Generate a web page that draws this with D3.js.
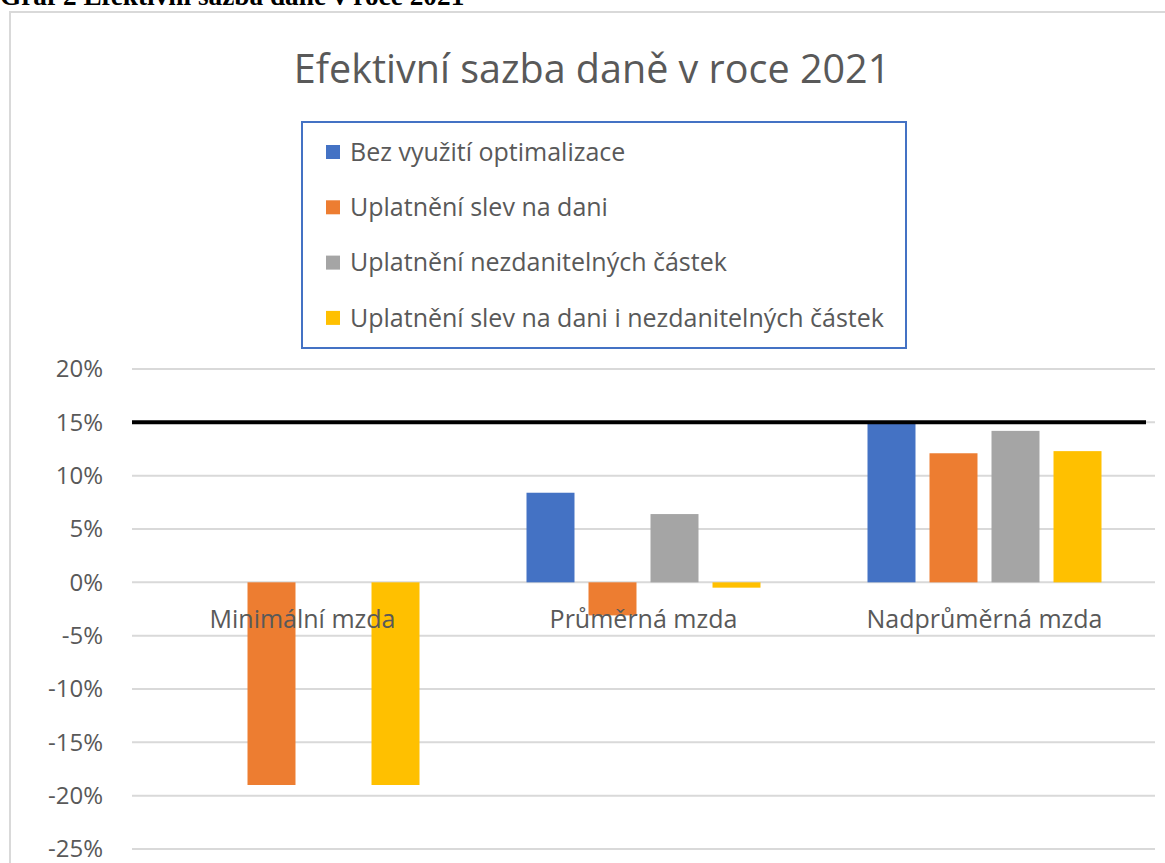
<!DOCTYPE html>
<html>
<head>
<meta charset="utf-8">
<script src="https://cdn.jsdelivr.net/npm/d3@7"></script>
<style>
  body { margin: 0; background: #fff; }
  text { font-family: "Open Sans", "Noto Sans", sans-serif; }
</style>
</head>
<body>
<svg id="chart"></svg>
<script>
// svg size
const width = 1165;
const height = 863;

// data
const categories = ["Minimální mzda", "Průměrná mzda", "Nadprůměrná mzda"];
const seriesNames = [
    "Bez využití optimalizace",
    "Uplatnění slev na dani",
    "Uplatnění nezdanitelných částek",
    "Uplatnění slev na dani i nezdanitelných částek"
];
const bezOptimalizace = [0, 8.4, 15.0];
const slevyNaDani = [-19.0, -3.1, 12.1];
const nezdanitelneCastky = [0, 6.4, 14.2];
const slevyINezdanitelne = [-19.0, -0.5, 12.3];
const referenceRate = 15;
const yTicks = [-25, -20, -15, -10, -5, 0, 5, 10, 15, 20];

const seriesValues = [bezOptimalizace, slevyNaDani, nezdanitelneCastky, slevyINezdanitelne];
const colors = ["#4472c4", "#ed7d31", "#a5a5a5", "#ffc000"];
const textColor = "#595959";

const svg = d3.select("#chart")
    .attr("width", width)
    .attr("height", height);

// caption of the document (cut at the top, like in the source page)
svg.append("text")
    .attr("x", 0)
    .attr("y", 5)
    .style("font-family", "'Liberation Serif', 'Times New Roman', serif")
    .attr("font-weight", "bold")
    .attr("font-size", 27.3)
    .attr("fill", "#000")
    .text("Graf 2 Efektivní sazba daně v roce 2021");

// chart frame
svg.append("rect")
    .attr("x", 10)
    .attr("y", 12)
    .attr("width", 1200)
    .attr("height", 900)
    .attr("fill", "white")
    .attr("stroke", "#d9d9d9")
    .attr("stroke-width", 2);

// title
svg.append("text")
    .attr("x", 592)
    .attr("y", 83)
    .attr("text-anchor", "middle")
    .attr("font-size", 39.5)
    .attr("fill", textColor)
    .text("Efektivní sazba daně v roce 2021");

// scales
const y = d3.scaleLinear()
    .domain([-25, 20])
    .range([849, 369]);

const x0 = d3.scaleBand()
    .domain(categories)
    .range([132, 1155]);

const x1 = d3.scaleBand()
    .domain(d3.range(seriesNames.length))
    .range([53.5, x0.bandwidth() - 53.5])
    .paddingInner(0.226);

// gridlines
svg.append("g")
    .selectAll("line")
    .data(yTicks)
    .enter()
    .append("line")
    .attr("x1", 132)
    .attr("x2", 1155)
    .attr("y1", d => y(d))
    .attr("y2", d => y(d))
    .attr("stroke", "#d9d9d9")
    .attr("stroke-width", 2);

// y axis labels
svg.append("g")
    .selectAll("text")
    .data(yTicks)
    .enter()
    .append("text")
    .attr("x", 103)
    .attr("y", d => y(d))
    .attr("dy", "0.35em")
    .attr("text-anchor", "end")
    .attr("font-size", 24)
    .attr("fill", textColor)
    .text(d => d + "%");

// bars
const groups = svg.append("g")
    .selectAll("g")
    .data(categories)
    .enter()
    .append("g")
    .attr("transform", d => `translate(${x0(d)},0)`);

groups.selectAll("rect")
    .data((d, ci) => seriesValues.map((vals, si) => ({ si, v: vals[ci] })))
    .enter()
    .append("rect")
    .attr("x", d => x1(d.si))
    .attr("width", x1.bandwidth())
    .attr("y", d => y(Math.max(0, d.v)))
    .attr("height", d => Math.abs(y(d.v) - y(0)))
    .attr("fill", d => colors[d.si]);

// 15% reference line
svg.append("line")
    .attr("x1", 132)
    .attr("x2", 1146)
    .attr("y1", y(referenceRate))
    .attr("y2", y(referenceRate))
    .attr("stroke", "black")
    .attr("stroke-width", 4);

// category labels (next to axis, over the bars)
svg.append("g")
    .selectAll("text")
    .data(categories)
    .enter()
    .append("text")
    .attr("x", d => x0(d) + x0.bandwidth() / 2)
    .attr("y", 628)
    .attr("text-anchor", "middle")
    .attr("font-size", 25)
    .attr("fill", textColor)
    .text(d => d);

// legend
const legend = svg.append("g");

legend.append("rect")
    .attr("x", 302)
    .attr("y", 122)
    .attr("width", 604)
    .attr("height", 226)
    .attr("fill", "white")
    .attr("stroke", "#4472c4")
    .attr("stroke-width", 2);

const item = legend.selectAll("g.item")
    .data(seriesNames)
    .enter()
    .append("g")
    .attr("class", "item")
    .attr("transform", (d, i) => `translate(326, ${152 + i * 55.3})`);

item.append("rect")
    .attr("x", 0)
    .attr("y", -7)
    .attr("width", 14)
    .attr("height", 14)
    .attr("fill", (d, i) => colors[i]);

item.append("text")
    .attr("x", 24)
    .attr("y", 0)
    .attr("dy", "0.35em")
    .attr("font-size", 25)
    .attr("fill", textColor)
    .text(d => d);
</script>
</body>
</html>
